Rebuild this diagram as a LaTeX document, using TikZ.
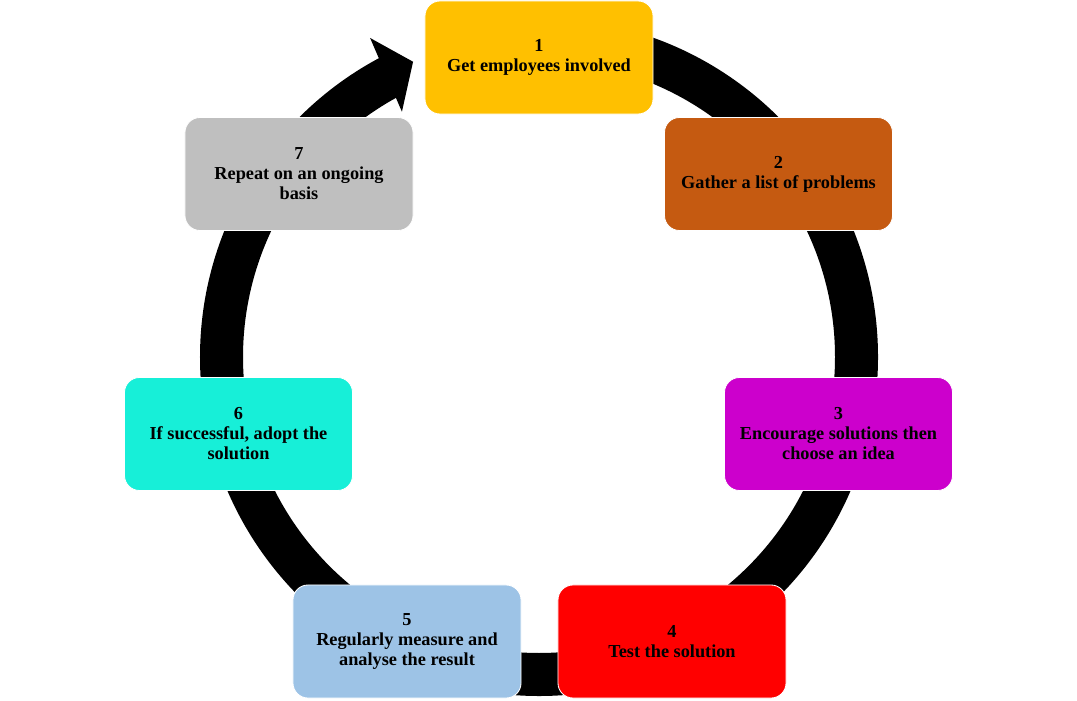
\documentclass[tikz,border=0pt]{standalone}
\usepackage{fontspec}
\setmainfont{Liberation Serif}
\usetikzlibrary{positioning, calc}

\definecolor{stepone}{HTML}{FFC000}
\definecolor{steptwo}{HTML}{C55A11}
\definecolor{stepthree}{HTML}{CC00CC}
\definecolor{stepfour}{HTML}{FF0000}
\definecolor{stepfive}{HTML}{9DC3E6}
\definecolor{stepsix}{HTML}{17EFD8}
\definecolor{stepseven}{HTML}{BFBFBF}

\tikzset{
  stage/.style={draw=white, line width=0.6pt, rounded corners=0.375cm,
    minimum width=5.7cm, minimum height=2.825cm, align=center, inner sep=2pt,
    font=\fontsize{13}{14.2}\selectfont\bfseries},
}

\begin{document}
\begin{tikzpicture}[x=0.025cm, y=0.025cm]
      \useasboundingbox (0,0) rectangle (1077,700);
      \coordinate (c) at (539,343);

      % ring with arrow head
      \draw[line width=1.075cm] ($(c)+(90:317.5)$) arc[start angle=90, end angle=-242, radius=317.5];
      \coordinate (wingout) at ($(c)+(117.9:361)$);
      \coordinate (wingin) at ($(c)+(119.2:281)$);
      \coordinate (tip) at ($(c)+(113.1:321)$);
      \fill (wingout) -- (tip) -- (wingin) -- cycle;

      \node[stage, fill=stepone] (s1) at (539,642.5) {1\\Get employees involved};
      \node[stage, fill=steptwo] (s2) at (778.5,526) {2\\Gather a list of problems};
      \node[stage, fill=stepthree] (s3) at (838.5,266) {3\\Encourage solutions then\\choose an idea};
      \node[stage, fill=stepfour] (s4) at (672,58.5) {4\\Test the solution};
      \node[stage, fill=stepfive] (s5) at (407,58.5) {5\\Regularly measure and\\analyse the result};
      \node[stage, fill=stepsix] (s6) at (238.5,266) {6\\If successful, adopt the\\solution};
      \node[stage, fill=stepseven] (s7) at (299,526) {7\\Repeat on an ongoing\\basis};

    \end{tikzpicture}
\end{document}
